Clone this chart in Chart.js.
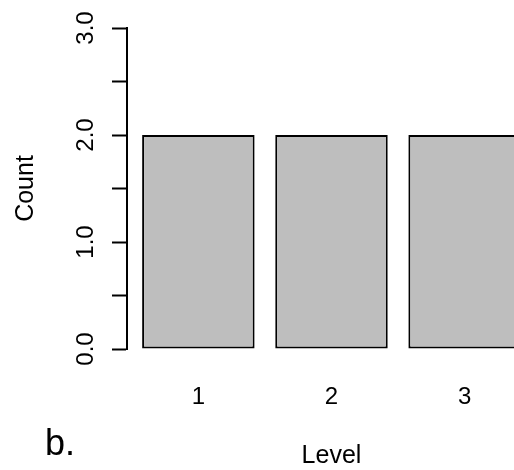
<!DOCTYPE html>
<html>
<head>
<meta charset="utf-8">
<script src="https://cdn.jsdelivr.net/npm/chart.js@4/dist/chart.umd.min.js"></script>
<style>
  html, body { margin: 0; padding: 0; background: #ffffff; overflow: hidden; }
  #wrap { position: relative; width: 514px; height: 470px; }
</style>
</head>
<body>
<div id="wrap"><canvas id="c" width="514" height="470"></canvas></div>
<script>
// ---- data ----
const levels = [1, 2, 3];
const counts = [2, 2, 2];
const levelLabels = ['1', '2', '3'];
const countTickValues = [0, 1, 2, 3];
const countTickLabels = ['0.0', '1.0', '2.0', '3.0'];
const xTitle = 'Level';
const yTitle = 'Count';
const panelTag = 'b.';

const FONT = '"Liberation Sans", Arial, sans-serif';

const textPlugin = {
  id: 'rText',
  afterDraw(chart) {
    const ctx = chart.ctx;
    const xs = chart.scales.x;
    const ys = chart.scales.y;
    ctx.save();
    ctx.fillStyle = '#000';
    // y tick labels (rotated)
    ctx.font = '24px ' + FONT;
    countTickValues.forEach((v, i) => {
      const py = ys.getPixelForValue(v);
      ctx.save();
      ctx.translate(93, py);
      ctx.rotate(-Math.PI / 2);
      ctx.textAlign = 'center';
      ctx.textBaseline = 'alphabetic';
      ctx.fillText(countTickLabels[i], 0, 0);
      ctx.restore();
    });
    // y title
    ctx.font = '25px ' + FONT;
    ctx.save();
    ctx.translate(33, (chart.chartArea.top + chart.chartArea.bottom) / 2);
    ctx.rotate(-Math.PI / 2);
    ctx.textAlign = 'center';
    ctx.textBaseline = 'alphabetic';
    ctx.fillText(yTitle, 0, 0);
    ctx.restore();
    // x tick labels
    ctx.font = '24px ' + FONT;
    ctx.textAlign = 'center';
    ctx.textBaseline = 'alphabetic';
    levels.forEach((v, i) => {
      ctx.fillText(levelLabels[i], xs.getPixelForValue(v), 404);
    });
    // x title
    ctx.font = '25px ' + FONT;
    ctx.fillText(xTitle, xs.getPixelForValue(2), 463);
    // panel tag
    ctx.font = '36px ' + FONT;
    ctx.textAlign = 'left';
    ctx.fillText(panelTag, 45, 455);
    ctx.restore();
  }
};

new Chart(document.getElementById('c'), {
  type: 'bar',
  data: {
    datasets: [{
      data: levels.map((x, i) => ({ x: x, y: counts[i] })),
      backgroundColor: '#bebebe',
      borderColor: '#000000',
      borderWidth: 2,
      borderSkipped: false,
      categoryPercentage: 1.0,
      barPercentage: 0.845
    }]
  },
  options: {
    responsive: false,
    animation: false,
    events: [],
    layout: { padding: { left: 0, right: 0, top: 28, bottom: 121 } },
    plugins: { legend: { display: false }, tooltip: { enabled: false } },
    scales: {
      x: {
        type: 'linear',
        min: 0.464,
        max: 3.371,
        offset: false,
        grid: { offset: false },
        display: false,
        afterBuildTicks: (s) => { s.ticks = levels.map(v => ({ value: v })); }
      },
      y: {
        type: 'linear',
        min: 0,
        max: 3,
        ticks: { display: false, stepSize: 0.5 },
        grid: {
          drawOnChartArea: false,
          drawTicks: true,
          tickLength: 15,
          tickColor: '#000',
          tickWidth: 2
        },
        border: { display: true, color: '#000', width: 2 },
        afterFit: (s) => { s.width = 127; }
      }
    }
  },
  plugins: [textPlugin]
});
</script>
</body>
</html>
